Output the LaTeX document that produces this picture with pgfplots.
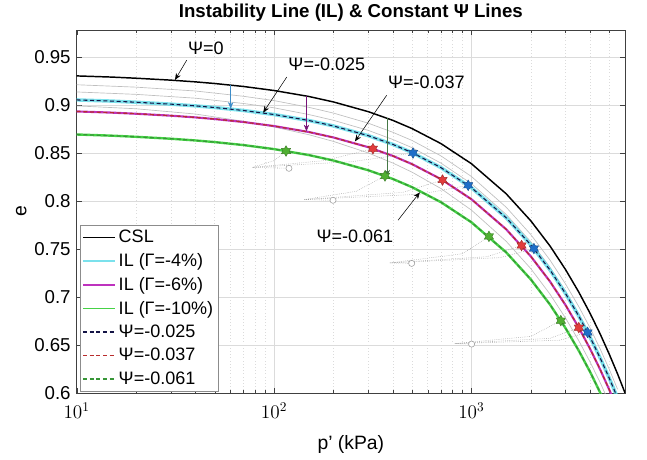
\documentclass[border=0pt]{standalone}
\usepackage{pgfplots}
\pgfplotsset{compat=1.18}
\usepackage{fontspec}
\setmainfont{Liberation Sans}
\usetikzlibrary{arrows.meta}
\definecolor{ilcyan}{RGB}{80,215,230}
\definecolor{ilmag}{RGB}{190,50,190}
\definecolor{ilgreen}{RGB}{70,210,70}
\definecolor{psiRed}{RGB}{185,45,45}
\definecolor{psiGreen}{RGB}{55,150,55}
\definecolor{psiBlue}{RGB}{20,20,70}
\definecolor{starblue}{RGB}{30,110,200}
\definecolor{starred}{RGB}{225,60,60}
\definecolor{stargreen}{RGB}{80,175,50}
\definecolor{arrblue}{RGB}{60,140,200}
\definecolor{arrpurple}{RGB}{120,20,120}
\definecolor{arrgreen}{RGB}{70,120,70}
\pgfdeclareplotmark{hexagram}{%
  \pgfpathmoveto{\pgfpointpolar{90}{\pgfplotmarksize}}%
  \pgfpathlineto{\pgfpointpolar{120}{0.577\pgfplotmarksize}}%
  \pgfpathlineto{\pgfpointpolar{150}{\pgfplotmarksize}}%
  \pgfpathlineto{\pgfpointpolar{180}{0.577\pgfplotmarksize}}%
  \pgfpathlineto{\pgfpointpolar{210}{\pgfplotmarksize}}%
  \pgfpathlineto{\pgfpointpolar{240}{0.577\pgfplotmarksize}}%
  \pgfpathlineto{\pgfpointpolar{270}{\pgfplotmarksize}}%
  \pgfpathlineto{\pgfpointpolar{300}{0.577\pgfplotmarksize}}%
  \pgfpathlineto{\pgfpointpolar{330}{\pgfplotmarksize}}%
  \pgfpathlineto{\pgfpointpolar{0}{0.577\pgfplotmarksize}}%
  \pgfpathlineto{\pgfpointpolar{30}{\pgfplotmarksize}}%
  \pgfpathlineto{\pgfpointpolar{60}{0.577\pgfplotmarksize}}%
  \pgfpathclose
  \pgfusepathqfillstroke}
\begin{document}
\begin{tikzpicture}
\begin{axis}[
  scale only axis, width=411.2pt, height=272.25pt,
  xmode=log, xmin=10, xmax=6000, ymin=0.6, ymax=0.978,
  ytick={0.6,0.65,0.7,0.75,0.8,0.85,0.9,0.95},
  yticklabels={0.6,0.65,0.7,0.75,0.8,0.85,0.9,0.95},
  tick align=inside, major tick length=4pt, minor tick length=2.5pt,
  axis line style={draw=black!75}, tick style={black!75},
  grid=both, major grid style={black!14, line width=0.5pt},
  minor x grid style={black!14, dotted, line width=0.5pt},
  minor y tick num=0,
  tick label style={font=\fontsize{14}{16}\selectfont},
  xticklabel style={yshift=-4pt},
  yticklabel style={xshift=-1pt},
  /pgf/number format/assume math mode=true,
  xlabel={p' (kPa)}, ylabel={e},
  label style={font=\fontsize{14.5}{16}\selectfont},
  xlabel style={yshift=-6pt}, ylabel style={yshift=-1pt},
  title={\textbf{Instability Line (IL) \& Constant Ψ Lines}},
  title style={font=\fontsize{14}{16}\selectfont, yshift=-3pt},
  legend style={at={(0.006,0.005)}, anchor=south west, draw=black!45,
    font=\fontsize{13.5}{16}\selectfont, inner sep=1.5pt, row sep=2.6pt},
  legend cell align=left,
  legend image code/.code={\draw[#1, line width=1.2pt] plot coordinates {(0cm,0cm) (0.85cm,0cm)};},
]
% grey solid reference lines (drawn first, underneath)
\addplot[black!25, line width=0.5pt, forget plot] coordinates {(10,0.9210)(20,0.9185)(40,0.9145)(70,0.9090)(100,0.9045)(150,0.8975)(200,0.8915)(300,0.8810)(400,0.8715)(500,0.8630)(700,0.8470)(1000,0.8255)(1500,0.7935)(2000,0.7650)(2500,0.7385)(3000,0.7135)(3500,0.6900)(4000,0.6675)(4500,0.6455)(5000,0.6245)(5500,0.6040)};
\addplot[black!25, line width=0.5pt, forget plot] coordinates {(10,0.9135)(20,0.9110)(40,0.9070)(70,0.9015)(100,0.8970)(150,0.8900)(200,0.8840)(300,0.8735)(400,0.8640)(500,0.8555)(700,0.8395)(1000,0.8180)(1500,0.7860)(2000,0.7575)(2500,0.7310)(3000,0.7060)(3500,0.6825)(4000,0.6600)(4500,0.6380)(5000,0.6170)(5500,0.5965)};
\addplot[black!25, line width=0.5pt, forget plot] coordinates {(10,0.8990)(20,0.8960)(40,0.8905)(70,0.8830)(100,0.8770)(150,0.8690)(200,0.8620)(300,0.8500)(400,0.8395)(500,0.8300)(700,0.8130)(1000,0.7905)(1500,0.7580)(2000,0.7295)(2500,0.7030)(3000,0.6780)(3500,0.6545)(4000,0.6320)(4500,0.6105)(5000,0.5895)};
% stress paths (grey dotted)
\addplot[black!40, densely dotted, forget plot] coordinates {(119,0.834)(78,0.835)(100,0.842)(115,0.852)};
\addplot[black!40, densely dotted, forget plot] coordinates {(78,0.835)(180,0.842)(317,0.8544)};
\addplot[black!40, densely dotted, forget plot] coordinates {(78,0.835)(250,0.841)(506,0.8499)};
\addplot[black!40, densely dotted, forget plot] coordinates {(199,0.8007)(143,0.8015)(260,0.810)(365,0.8260)};
\addplot[black!40, densely dotted, forget plot] coordinates {(143,0.8015)(450,0.809)(714,0.8218)};
\addplot[black!40, densely dotted, forget plot] coordinates {(143,0.8015)(550,0.807)(963,0.8163)};
\addplot[black!40, densely dotted, forget plot] coordinates {(498,0.735)(386,0.7355)(900,0.745)(1227,0.7631)};
\addplot[black!40, densely dotted, forget plot] coordinates {(386,0.7355)(1200,0.742)(1795,0.7536)};
\addplot[black!40, densely dotted, forget plot] coordinates {(386,0.7355)(1400,0.741)(2073,0.7504)};
\addplot[black!40, densely dotted, forget plot] coordinates {(1002,0.651)(825,0.6515)(2000,0.659)(2838,0.6754)};
\addplot[black!40, densely dotted, forget plot] coordinates {(825,0.6515)(2500,0.657)(3501,0.6681)};
\addplot[black!40, densely dotted, forget plot] coordinates {(825,0.6515)(2800,0.655)(3878,0.6631)};
\addplot[only marks, mark=*, mark size=2.3pt, mark options={fill=white, draw=black!40}, forget plot] coordinates {(119,0.834)(199,0.8007)(498,0.735)(1002,0.651)};
% CSL
\addplot[black, line width=1.1pt] coordinates {(10,0.9302)(15,0.9290)(20,0.9278)(30,0.9258)(40,0.9240)(50,0.9223)(70,0.9192)(100,0.9150)(150,0.9088)(200,0.9031)(300,0.8930)(400,0.8839)(500,0.8754)(700,0.8598)(1000,0.8388)(1500,0.8075)(2000,0.7793)(2500,0.7532)(3000,0.7285)(3500,0.7051)(4000,0.6827)(4500,0.6611)(5000,0.6402)(5500,0.6200)(6000,0.6002)};
\addlegendentry{CSL}
% IL -4%
\addplot[ilcyan, line width=2.6pt, opacity=0.75] coordinates {(10,0.9052)(15,0.9040)(20,0.9028)(30,0.9008)(40,0.8990)(50,0.8973)(70,0.8942)(100,0.8900)(150,0.8838)(200,0.8781)(300,0.8680)(400,0.8589)(500,0.8504)(700,0.8348)(1000,0.8138)(1500,0.7825)(2000,0.7543)(2500,0.7282)(3000,0.7035)(3500,0.6801)(4000,0.6577)(4500,0.6361)(5000,0.6152)(5500,0.5950)};
\addlegendentry{IL (Γ=-4\%)}
% IL -6%
\addplot[ilmag, line width=1.6pt] coordinates {(10,0.8932)(15,0.8920)(20,0.8908)(30,0.8888)(40,0.8870)(50,0.8853)(70,0.8822)(100,0.8780)(150,0.8718)(200,0.8661)(300,0.8560)(400,0.8469)(500,0.8384)(700,0.8228)(1000,0.8018)(1500,0.7705)(2000,0.7423)(2500,0.7162)(3000,0.6915)(3500,0.6681)(4000,0.6457)(4500,0.6241)(5000,0.6032)(5500,0.5830)};
\addlegendentry{IL (Γ=-6\%)}
% IL -10%
\addplot[ilgreen, line width=1.8pt] coordinates {(10,0.8692)(15,0.8680)(20,0.8668)(30,0.8648)(40,0.8630)(50,0.8613)(70,0.8582)(100,0.8540)(150,0.8478)(200,0.8421)(300,0.8320)(400,0.8229)(500,0.8144)(700,0.7988)(1000,0.7778)(1500,0.7465)(2000,0.7183)(2500,0.6922)(3000,0.6675)(3500,0.6441)(4000,0.6217)(4500,0.6001)(5000,0.5792)};
\addlegendentry{IL (Γ=-10\%)}
% constant psi dashed
\addplot[color=psiBlue, line width=0.8pt, dash pattern=on 3pt off 2pt] coordinates {(10,0.9052)(15,0.9040)(20,0.9028)(30,0.9008)(40,0.8990)(50,0.8973)(70,0.8942)(100,0.8900)(150,0.8838)(200,0.8781)(300,0.8680)(400,0.8589)(500,0.8504)(700,0.8348)(1000,0.8138)(1500,0.7825)(2000,0.7543)(2500,0.7282)(3000,0.7035)(3500,0.6801)(4000,0.6577)(4500,0.6361)(5000,0.6152)(5500,0.5950)};
\addlegendentry{Ψ=-0.025}
\addplot[color=psiRed, line width=0.9pt, dash pattern=on 3pt off 2pt] coordinates {(10,0.8932)(15,0.8920)(20,0.8908)(30,0.8888)(40,0.8870)(50,0.8853)(70,0.8822)(100,0.8780)(150,0.8718)(200,0.8661)(300,0.8560)(400,0.8469)(500,0.8384)(700,0.8228)(1000,0.8018)(1500,0.7705)(2000,0.7423)(2500,0.7162)(3000,0.6915)(3500,0.6681)(4000,0.6457)(4500,0.6241)(5000,0.6032)(5500,0.5830)};
\addlegendentry{Ψ=-0.037}
\addplot[color=psiGreen, line width=0.9pt, dash pattern=on 3pt off 2pt] coordinates {(10,0.8692)(15,0.8680)(20,0.8668)(30,0.8648)(40,0.8630)(50,0.8613)(70,0.8582)(100,0.8540)(150,0.8478)(200,0.8421)(300,0.8320)(400,0.8229)(500,0.8144)(700,0.7988)(1000,0.7778)(1500,0.7465)(2000,0.7183)(2500,0.6922)(3000,0.6675)(3500,0.6441)(4000,0.6217)(4500,0.6001)(5000,0.5792)};
\addlegendentry{Ψ=-0.061}
% stars
\addplot[only marks, mark=hexagram, mark size=4pt, mark options={fill=stargreen, draw=stargreen!70!black, line width=0.3pt}, forget plot] coordinates {(115,0.8520)(365,0.8260)(1227,0.7631)(2838,0.6754)};
\addplot[only marks, mark=hexagram, mark size=4pt, mark options={fill=starred, draw=starred!70!black, line width=0.3pt}, forget plot] coordinates {(317,0.8544)(714,0.8218)(1795,0.7536)(3501,0.6681)};
\addplot[only marks, mark=hexagram, mark size=4pt, mark options={fill=starblue, draw=starblue!70!black, line width=0.3pt}, forget plot] coordinates {(506,0.8499)(963,0.8163)(2073,0.7504)(3878,0.6631)};
% annotations
\draw[-{Stealth[length=5pt,width=4pt]}, black] (axis cs:36.1,0.9466) -- (axis cs:31.5,0.9260);
\node[font=\fontsize{13.5}{15}\selectfont] at (axis cs:45.2,0.9586) {Ψ=0};
\draw[-{Stealth[length=5pt,width=4pt]}, arrblue] (axis cs:60.3,0.9207) -- (axis cs:60.3,0.8960);
\draw[-{Stealth[length=5pt,width=4pt]}, arrpurple] (axis cs:146,0.9092) -- (axis cs:146,0.8725);
\draw[-{Stealth[length=5pt,width=4pt]}, arrgreen] (axis cs:375,0.8861) -- (axis cs:375,0.8255);
\node[font=\fontsize{13.5}{15}\selectfont] at (axis cs:185,0.9419) {Ψ=-0.025};
\draw[-{Stealth[length=5pt,width=4pt]}, black] (axis cs:116,0.929) -- (axis cs:88.1,0.8920);
\node[font=\fontsize{13.5}{15}\selectfont] at (axis cs:591,0.9231) {Ψ=-0.037};
\draw[-{Stealth[length=5pt,width=4pt]}, black] (axis cs:372,0.910) -- (axis cs:257,0.862);
\node[font=\fontsize{13.5}{15}\selectfont] at (axis cs:257,0.7637) {Ψ=-0.061};
\draw[-{Stealth[length=5pt,width=4pt]}, black] (axis cs:425,0.780) -- (axis cs:548,0.809);
\coordinate (bl) at (rel axis cs:0,0);
\coordinate (tr) at (rel axis cs:1,1);
\end{axis}
\pgfresetboundingbox
\path ([shift={(-57.5pt,-49.5pt)}]bl) rectangle ([shift={(16.5pt,22.5pt)}]tr);
\end{tikzpicture}
\end{document}
